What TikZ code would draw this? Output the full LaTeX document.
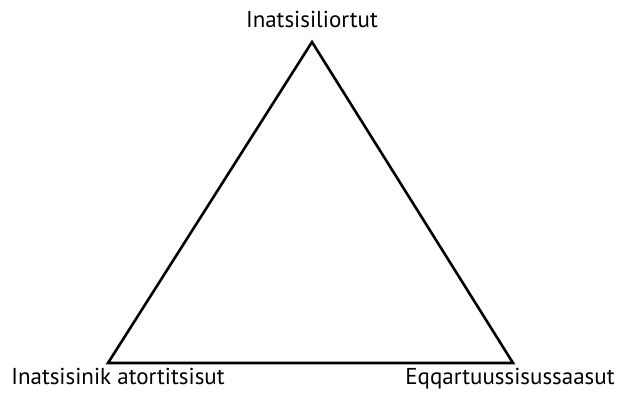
\documentclass[tikz,border=0pt]{standalone}
\usepackage{fontspec}
\setmainfont{PT Sans}
\usetikzlibrary{positioning}
\tikzset{
  power/.style={font=\fontsize{23}{25}\selectfont,inner sep=0pt,anchor=base},
  side/.style={line width=2.6pt,line join=miter}
}
\begin{document}
\begin{tikzpicture}[x=1pt,y=1pt]
  \useasboundingbox (0,0) rectangle (622,396);
  % corners
  \coordinate (top) at (312,354);
  \coordinate (left) at (108,33);
  \coordinate (right) at (513,33);
  \draw[side] (top) -- (left) -- (right) -- cycle;
  % labels
  \node[power] (legis) at (312,368) {Inatsisiliortut};
  \node[power] (exec) at (118,11) {Inatsisinik atortitsisut};
  \node[power] (jud) at (510,11) {Eqqartuussisussaasut};
\end{tikzpicture}
\end{document}
